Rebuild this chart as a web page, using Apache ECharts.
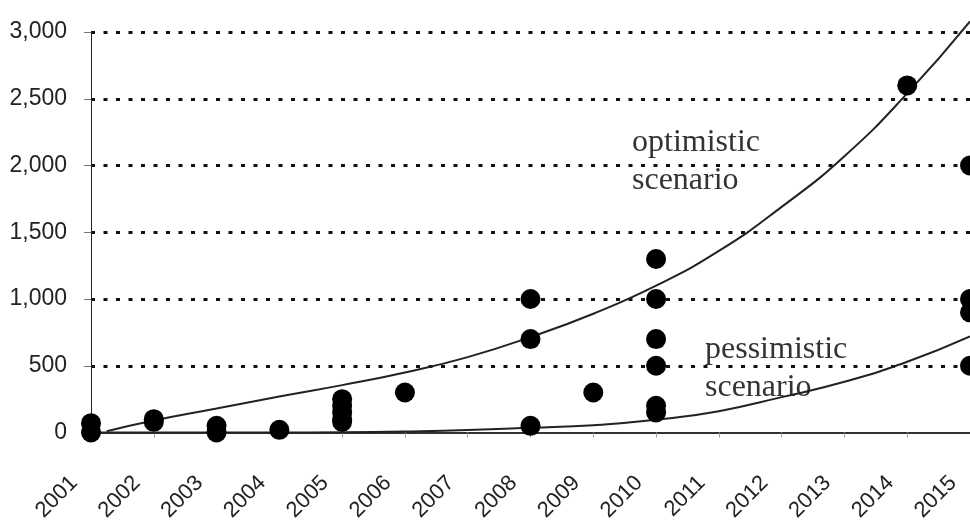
<!DOCTYPE html>
<html>
<head>
<meta charset="utf-8">
<script src="https://cdn.jsdelivr.net/npm/echarts@6/dist/echarts.min.js"></script>
<style>
  html, body { margin: 0; padding: 0; background: #ffffff; }
  #chart { width: 970px; height: 524px; }
</style>
</head>
<body>
<div id="chart"></div>
<script>
// Observed installations per year (several reports may share a year)
const pointYears  = [2001, 2001, 2002, 2002, 2003, 2003, 2004,
                     2005, 2005, 2005, 2005, 2005, 2006,
                     2008, 2008, 2008, 2009,
                     2010, 2010, 2010, 2010, 2010, 2010,
                     2014, 2015, 2015, 2015, 2015];
const pointValues = [70, 0, 100, 80, 50, 0, 20,
                     250, 200, 150, 100, 80, 300,
                     1000, 700, 50, 300,
                     1300, 1000, 700, 500, 200, 150,
                     2600, 2000, 1000, 900, 500];

// Growth curves for the two scenarios
const optimisticYears  = [2001.25, 2002, 2003, 2004, 2005, 2006, 2007, 2008, 2009, 2010, 2011, 2012, 2013, 2014, 2015];
const optimisticValues = [10, 90, 180, 270, 355, 450, 565, 715, 890, 1100, 1360, 1690, 2070, 2540, 3080];
const pessimisticYears  = [2001, 2002, 2003, 2004, 2005, 2006, 2007, 2008, 2009, 2010, 2011, 2012, 2013, 2014, 2015];
const pessimisticValues = [0, 0, 0, 0, 2, 8, 18, 35, 55, 95, 160, 265, 380, 530, 720];

// Axis settings
const yearMin = 2001, yearMax = 2015;
const valueMin = 0, valueMax = 3000, valueStep = 500;

const pair = (xs, ys) => xs.map((x, i) => [x, ys[i]]);

const chart = echarts.init(document.getElementById('chart'), null, { renderer: 'canvas' });

chart.setOption({
  backgroundColor: '#ffffff',
  animation: false,
  grid: { left: 91, right: -2, top: 32, bottom: 91, containLabel: false },
  xAxis: {
    type: 'value',
    min: yearMin,
    max: yearMax,
    interval: 1,
    splitLine: { show: false },
    axisLine: { show: true, onZero: true, lineStyle: { color: '#333', width: 2 } },
    axisTick: { show: true, length: 5, lineStyle: { color: '#999', width: 1 } },
    axisLabel: {
      rotate: 45,
      margin: 30,
      padding: [0, 24, 0, 0],
      fontSize: 22,
      fontFamily: 'Liberation Sans',
      color: '#222',
      formatter: v => String(v)
    }
  },
  yAxis: {
    type: 'value',
    min: valueMin,
    max: valueMax,
    interval: valueStep,
    axisLine: { show: true, lineStyle: { color: '#222', width: 1 } },
    axisTick: { show: true, length: 7, lineStyle: { color: '#777', width: 1 } },
    axisLabel: {
      margin: 24,
      fontSize: 23,
      fontFamily: 'Liberation Sans',
      color: '#222'
    },
    splitLine: {
      show: true,
      showMinLine: false,
      lineStyle: { type: [4, 8.5], width: 3, color: '#111' }
    }
  },
  series: [
    {
      name: 'optimistic',
      type: 'line',
      data: pair(optimisticYears, optimisticValues),
      smooth: true,
      showSymbol: false,
      clip: false,
      silent: true,
      lineStyle: { color: '#222', width: 2 },
      z: 2
    },
    {
      name: 'pessimistic',
      type: 'line',
      data: pair(pessimisticYears, pessimisticValues),
      smooth: true,
      showSymbol: false,
      clip: false,
      silent: true,
      lineStyle: { color: '#222', width: 2 },
      z: 2
    },
    {
      name: 'observed',
      type: 'scatter',
      data: pair(pointYears, pointValues),
      symbol: 'circle',
      symbolSize: 20,
      clip: false,
      itemStyle: { color: '#000', opacity: 1 },
      z: 3
    }
  ],
  graphic: [
    {
      type: 'text',
      left: 632,
      top: 124,
      style: {
        text: 'optimistic\nscenario',
        font: '32px "Liberation Serif"',
        fill: '#333',
        lineHeight: 38
      }
    },
    {
      type: 'text',
      left: 705,
      top: 331,
      style: {
        text: 'pessimistic\nscenario',
        font: '32px "Liberation Serif"',
        fill: '#333',
        lineHeight: 38
      }
    }
  ]
});
</script>
</body>
</html>
